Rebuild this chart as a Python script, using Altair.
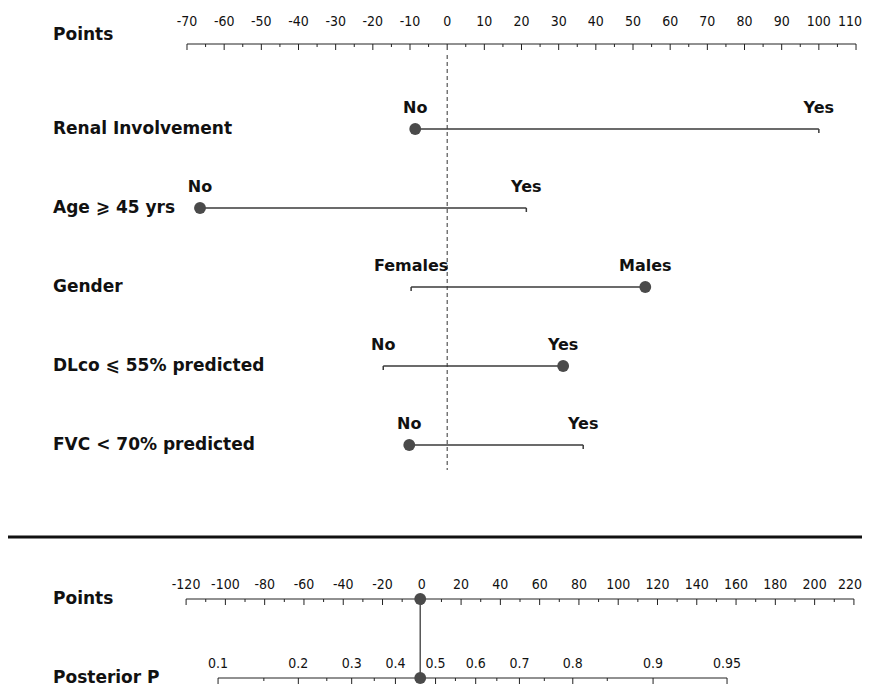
import altair as alt
import pandas as pd
import numpy as np

# ---------------- data ----------------
predictors = ["Renal Involvement", "Age \u2a7e 45 yrs", "Gender",
              "DLco \u2a7d 55% predicted", "FVC < 70% predicted"]
low_labels = ["No", "No", "Females", "No", "No"]
high_labels = ["Yes", "Yes", "Males", "Yes", "Yes"]
low_points = [-8.6, -66.5, -9.7, -17.2, -10.2]
high_points = [100.0, 21.3, 53.3, 31.2, 36.6]
selected_end = ["low", "low", "high", "high", "low"]

points_ticks = list(range(-70, 111, 10))
points_minor = list(range(-65, 110, 10))
total_ticks = list(range(-120, 221, 20))
total_minor = list(range(-110, 220, 20))
post_major = [0.1, 0.2, 0.3, 0.4, 0.5, 0.6, 0.7, 0.8, 0.9, 0.95]
post_minor = [0.15, 0.25, 0.35, 0.45, 0.55, 0.65, 0.75, 0.85]

# logistic link of the model: logit(P) = intercept + total_points / points_per_logit
logit_intercept = -0.139
points_per_logit = 50.4

# ---------------- derived tables ----------------
def post_to_points(p):
    p = np.asarray(p, dtype=float)
    return (np.log(p / (1 - p)) - logit_intercept) * points_per_logit

pred = pd.DataFrame({"row": predictors, "low": low_points, "high": high_points})
ends = pd.concat([
    pd.DataFrame({"row": predictors, "pts": low_points, "lab": low_labels,
                  "dot": [s == "low" for s in selected_end]}),
    pd.DataFrame({"row": predictors, "pts": high_points, "lab": high_labels,
                  "dot": [s == "high" for s in selected_end]}),
])
total = float(sum(l if s == "low" else h
                  for l, h, s in zip(low_points, high_points, selected_end)))

W, H = 854, 680
FONT_T = "DejaVu Sans"
FONT_N = "Liberation Sans Narrow, DejaVu Sans Condensed, Liberation Sans, sans-serif"
LINE = "#3a3a3a"
DOT = "#4a4a4a"
TICK_PATH = "M0,0L0,1"

# ---------------- top section ----------------
xs_top = alt.Scale(domain=[-118.16, 111.61], nice=False, zero=False)
ys_top = alt.Scale(domain=predictors, range=[121, 437], type="point", padding=0)
X = lambda f: alt.X(f, type="quantitative", scale=xs_top, axis=None)
Y = alt.Y("row:N", scale=ys_top, axis=None)
AXIS_Y = 36

pt_df = pd.DataFrame({"v": points_ticks, "lab": [str(v) for v in points_ticks]})
pm_df = pd.DataFrame({"v": points_minor})
rng_top = pd.DataFrame({"a": [min(points_ticks)], "b": [max(points_ticks)]})
top_last = max(points_ticks)

top_axis_line = alt.Chart(rng_top).mark_rule(color="#222", strokeWidth=1).encode(
    x=X("a"), x2="b", y=alt.value(AXIS_Y))
top_major = alt.Chart(pt_df).mark_point(shape=TICK_PATH, size=144, color="#222",
                                        strokeWidth=1, filled=False, opacity=1).encode(
    x=X("v"), y=alt.value(AXIS_Y))
top_minor = alt.Chart(pm_df).mark_point(shape=TICK_PATH, size=36, color="#222",
                                        strokeWidth=1, filled=False, opacity=1).encode(
    x=X("v"), y=alt.value(AXIS_Y))
top_labels = alt.Chart(pt_df).transform_filter(f"datum.v < {top_last}").mark_text(
    font=FONT_N, fontSize=14, dy=-18, baseline="alphabetic", color="#111").encode(
    x=X("v"), y=alt.value(AXIS_Y), text="lab:N")
# last label kept whole inside the drawing edge
top_label_last = alt.Chart(pt_df).transform_filter(f"datum.v == {top_last}").mark_text(
    font=FONT_N, fontSize=14, dy=-18, align="right", baseline="alphabetic",
    color="#111").encode(x=alt.value(W), y=alt.value(AXIS_Y), text="lab:N")
top_title = alt.Chart(pd.DataFrame({"t": ["Points"]})).mark_text(
    font=FONT_T, fontWeight="bold", fontSize=17, align="left", baseline="middle",
    color="#111").encode(x=alt.value(45), y=alt.value(AXIS_Y - 9), text="t:N")
zero_line = alt.Chart(pd.DataFrame({"v": [0]})).mark_rule(
    color="#333", strokeWidth=1, strokeDash=[4, 3]).encode(
    x=X("v"), y=alt.value(47), y2=alt.value(462))
pred_lines = alt.Chart(pred).mark_rule(color=LINE, strokeWidth=1.5).encode(
    x=X("low"), x2="high", y=Y)
end_ticks = alt.Chart(ends).transform_filter("!datum.dot").mark_point(
    shape=TICK_PATH, size=64, color=LINE, strokeWidth=1.5, filled=False, opacity=1).encode(
    x=X("pts"), y=Y)
dots = alt.Chart(ends).transform_filter("datum.dot").mark_circle(
    size=140, color=DOT, opacity=1).encode(x=X("pts"), y=Y)
end_labels = alt.Chart(ends).mark_text(font=FONT_T, fontWeight="bold", fontSize=16,
                                       baseline="alphabetic", dy=-16, color="#111").encode(
    x=X("pts"), y=Y, text="lab:N")
row_titles = alt.Chart(pred).mark_text(font=FONT_T, fontWeight="bold", fontSize=17,
                                       align="left", baseline="middle", color="#111").encode(
    x=alt.value(45), y=Y, text="row:N")

top = alt.layer(top_axis_line, top_major, top_minor, top_labels, top_label_last, top_title,
                zero_line, pred_lines, end_ticks, dots, end_labels, row_titles)

# ---------------- bottom section ----------------
rows_b = ["Points", "Posterior P"]
xs_bot = alt.Scale(domain=[-210.68, 224.12], nice=False, zero=False)
ys_bot = alt.Scale(domain=rows_b, range=[591, 670], type="point", padding=0)
XB = lambda f: alt.X(f, type="quantitative", scale=xs_bot, axis=None)
YB = alt.Y("row:N", scale=ys_bot, axis=None)
bot_last = max(total_ticks)

tick_df = pd.concat([
    pd.DataFrame({"row": "Points", "x": total_ticks, "lab": [str(v) for v in total_ticks], "major": True}),
    pd.DataFrame({"row": "Points", "x": total_minor, "lab": "", "major": False}),
    pd.DataFrame({"row": "Posterior P", "x": post_to_points(post_major),
                  "lab": [f"{v:g}" for v in post_major], "major": True}),
    pd.DataFrame({"row": "Posterior P", "x": post_to_points(post_minor), "lab": "", "major": False}),
])
line_df = pd.DataFrame({"row": rows_b,
                        "a": [min(total_ticks), float(post_to_points(min(post_major)))],
                        "b": [max(total_ticks), float(post_to_points(max(post_major)))]})
total_df = pd.DataFrame({"row": rows_b, "x": [total, total]})

sep = alt.Chart(pd.DataFrame({"a": [0]})).mark_rule(color="#111", strokeWidth=3).encode(
    x=alt.value(0), x2=alt.value(W), y=alt.value(529))
b_lines = alt.Chart(line_df).mark_rule(color="#222", strokeWidth=1).encode(
    x=XB("a"), x2="b", y=YB)
b_major = alt.Chart(tick_df).transform_filter("datum.major").mark_point(
    shape=TICK_PATH, size=144, color="#222", strokeWidth=1, filled=False, opacity=1).encode(
    x=XB("x"), y=YB)
b_minor = alt.Chart(tick_df).transform_filter("!datum.major").mark_point(
    shape=TICK_PATH, size=36, color="#222", strokeWidth=1, filled=False, opacity=1).encode(
    x=XB("x"), y=YB)
b_labels = alt.Chart(tick_df).transform_filter(
    f"datum.major && !(datum.row == 'Points' && datum.x == {bot_last})").mark_text(
    font=FONT_N, fontSize=14, dy=-10, baseline="alphabetic", color="#111").encode(
    x=XB("x"), y=YB, text="lab:N")
b_label_last = alt.Chart(tick_df).transform_filter(
    f"datum.row == 'Points' && datum.x == {bot_last}").mark_text(
    font=FONT_N, fontSize=14, dy=-10, align="right", baseline="alphabetic",
    color="#111").encode(x=alt.value(W), y=YB, text="lab:N")
b_titles = alt.Chart(pd.DataFrame({"row": rows_b})).mark_text(
    font=FONT_T, fontWeight="bold", fontSize=17, align="left", baseline="middle",
    color="#111").encode(x=alt.value(45), y=YB, text="row:N")
b_link = alt.Chart(total_df).mark_line(color="#555", strokeWidth=1.5).encode(
    x=XB("x"), y=YB)
b_dots = alt.Chart(total_df).mark_circle(size=140, color=DOT, opacity=1).encode(
    x=XB("x"), y=YB)

bottom = alt.layer(sep, b_lines, b_major, b_minor, b_labels, b_label_last, b_titles,
                   b_link, b_dots)

chart = alt.layer(top, bottom).resolve_scale(x="independent", y="independent").properties(
    width=W, height=H, padding=0, autosize=alt.AutoSizeParams(type="none"),
    background="white"
).configure_view(stroke=None)

chart.save("out.html", embed_options={"renderer": "svg", "actions": False})
